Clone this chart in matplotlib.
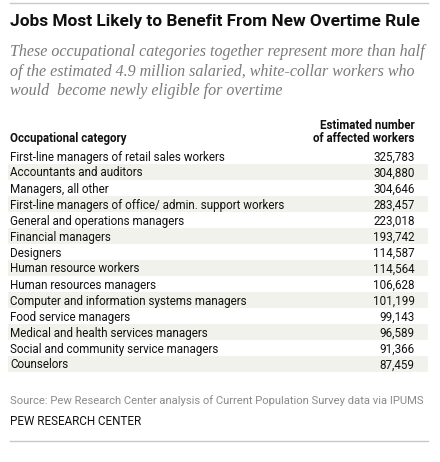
import matplotlib
matplotlib.use("Agg")
import matplotlib.pyplot as plt
from matplotlib.patches import Rectangle

title = "Jobs Most Likely to Benefit From New Overtime Rule"
subtitle = [
    "These occupational categories together represent more than half",
    "of the estimated 4.9 million salaried, white-collar workers who",
    "would  become newly eligible for overtime",
]
col_headers = ["Occupational category", "Estimated number\nof affected workers"]
categories = [
    "First-line managers of retail sales workers",
    "Accountants and auditors",
    "Managers, all other",
    "First-line managers of office/ admin. support workers",
    "General and operations managers",
    "Financial managers",
    "Designers",
    "Human resource workers",
    "Human resources managers",
    "Computer and information systems managers",
    "Food service managers",
    "Medical and health services managers",
    "Social and community service managers",
    "Counselors",
]
workers = [325783, 304880, 304646, 283457, 223018, 193742, 114587,
           114564, 106628, 101199, 99143, 96589, 91366, 87459]
source = "Source: Pew Research Center analysis of Current Population Survey data via IPUMS"
credit = "PEW RESEARCH CENTER"

# canvas in pixels, y pointing down
W, H = 440, 462
fig = plt.figure(figsize=(W / 100, H / 100), dpi=100)
ax = fig.add_axes([0, 0, 1, 1])
ax.set_xlim(0, W)
ax.set_ylim(H, 0)
ax.axis("off")

sans = ["Liberation Sans Narrow", "Roboto", "DejaVu Sans"]
serif = ["Liberation Serif", "DejaVu Serif"]
LEFT, RIGHT, NUM_X = 10, 428, 414.5
DARK = "#111111"

ax.plot([LEFT, RIGHT], [3, 3], color="#c8c8c8", lw=1)
ax.plot([LEFT, RIGHT], [441, 441], color="#c8c8c8", lw=1)

ax.text(LEFT, 26, title, fontsize=12.4, fontweight="bold", family=sans,
        va="baseline", ha="left", color=DARK)
for i, line in enumerate(subtitle):
    ax.text(LEFT, 56.5 + i * 19.3, line, fontsize=11.55, style="italic",
            family=serif, va="baseline", ha="left", color="#7a7a7a")

ax.text(LEFT, 142, col_headers[0], fontsize=8.3, fontweight="bold",
        family=sans, va="baseline", ha="left", color=DARK)
head = col_headers[1].split("\n")
ax.text(NUM_X, 129, head[0], fontsize=8.3, fontweight="bold",
        family=sans, va="baseline", ha="right", color=DARK)
ax.text(NUM_X, 142, head[1], fontsize=8.3, fontweight="bold",
        family=sans, va="baseline", ha="right", color=DARK)

row_h = 16
base0 = 160.5
for i, (cat, val) in enumerate(zip(categories, workers)):
    yb = base0 + i * row_h
    if i % 2 == 1:
        ax.add_patch(Rectangle((LEFT - 2, yb - 5 - row_h / 2), RIGHT - LEFT + 2, row_h,
                               facecolor="#f2f2ed", edgecolor="none", zorder=0))
    ax.text(LEFT, yb, cat, fontsize=8.4, family=sans, va="baseline", ha="left",
            color=DARK)
    ax.text(NUM_X, yb, f"{val:,}", fontsize=8.4, family=sans, va="baseline",
            ha="right", color=DARK)

ax.text(LEFT, 403.5, source, fontsize=8.15, family=sans, va="baseline", ha="left",
        color="#8a8a8a")
ax.text(LEFT, 425, credit, fontsize=8.4, family=sans, va="baseline", ha="left",
        color=DARK)

fig.savefig("out.png", dpi=100)
